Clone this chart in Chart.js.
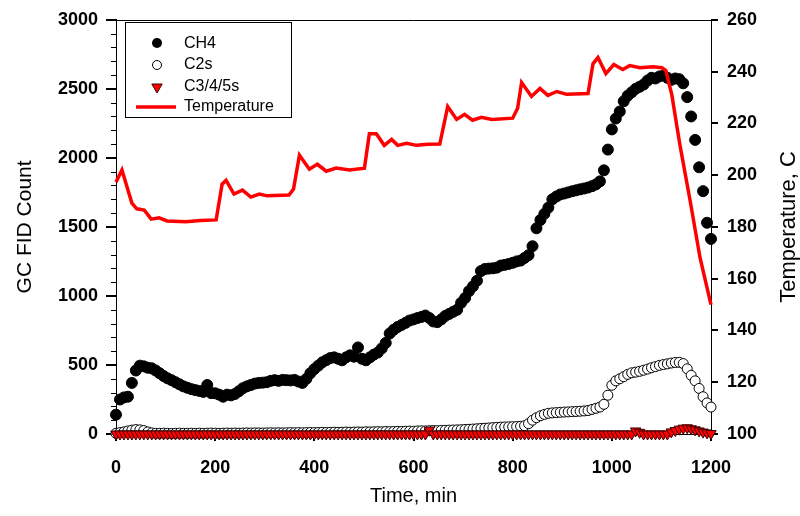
<!DOCTYPE html>
<html>
<head>
<meta charset="utf-8">
<script src="https://cdn.jsdelivr.net/npm/chart.js@4.4.0/dist/chart.umd.min.js"></script>
<style>
  html, body { margin: 0; padding: 0; background: #fff; }
  #wrap { width: 800px; height: 516px; }
</style>
</head>
<body>
<div id="wrap"><canvas id="chart" width="800" height="516"></canvas></div>
<script>
// sample times (min) shared by the three GC series
const minutes = [
  0, 8, 16, 24, 32, 40, 48, 56, 64, 72,
  80, 88, 96, 104, 112, 120, 128, 136, 144, 152,
  160, 168, 176, 184, 192, 200, 208, 216, 224, 232,
  240, 248, 256, 264, 272, 280, 288, 296, 304, 312,
  320, 328, 336, 344, 352, 360, 368, 376, 384, 392,
  400, 408, 416, 424, 432, 440, 448, 456, 464, 472,
  480, 488, 496, 504, 512, 520, 528, 536, 544, 552,
  560, 568, 576, 584, 592, 600, 608, 616, 624, 632,
  640, 648, 656, 664, 672, 680, 688, 696, 704, 712,
  720, 728, 736, 744, 752, 760, 768, 776, 784, 792,
  800, 808, 816, 824, 832, 840, 848, 856, 864, 872,
  880, 888, 896, 904, 912, 920, 928, 936, 944, 952,
  960, 968, 976, 984, 992, 1000, 1008, 1016, 1024, 1032,
  1040, 1048, 1056, 1064, 1072, 1080, 1088, 1096, 1104, 1112,
  1120, 1128, 1136, 1144, 1152, 1160, 1168, 1176, 1184, 1192,
  1200
];

const ch4 = [
  140, 250, 265, 270, 370, 460, 495, 490, 480, 476,
  460, 440, 420, 403, 390, 375, 360, 345, 335, 325,
  318, 312, 305, 355, 296, 295, 285, 270, 285, 280,
  290, 310, 332, 345, 355, 365, 370, 372, 375, 385,
  390, 385, 392, 390, 388, 392, 380, 370, 400, 440,
  470, 495, 519, 535, 550, 555, 545, 534, 555, 570,
  560, 627, 545, 534, 555, 575, 590, 620, 660, 728,
  755, 775, 790, 805, 822, 830, 840, 848, 858, 840,
  815, 810, 830, 855, 870, 885, 900, 950, 985, 1035,
  1070, 1110, 1180, 1195, 1198, 1200, 1205, 1220, 1225, 1232,
  1240, 1250, 1256, 1275, 1295, 1360, 1490, 1550, 1595, 1640,
  1700, 1720, 1735, 1742, 1750, 1758, 1765, 1772, 1778, 1785,
  1795, 1808, 1830, 1910, 2060, 2206, 2285, 2336, 2410, 2450,
  2475, 2500, 2515, 2531, 2560, 2580, 2575, 2590, 2596, 2580,
  2565, 2575, 2570, 2540, 2440, 2300, 2130, 1932, 1759, 1530,
  1413
];

const c2s = [
  5, 10, 15, 22, 28, 32, 30, 25, 15, 8,
  5, 5, 6, 5, 4, 5, 6, 5, 5, 6,
  5, 6, 5, 6, 7, 6, 5, 6, 7, 6,
  7, 6, 7, 8, 7, 8, 8, 7, 8, 9,
  8, 9, 8, 9, 10, 9, 10, 9, 10, 11,
  10, 11, 12, 11, 12, 13, 12, 13, 14, 13,
  14, 15, 14, 16, 15, 16, 17, 16, 18, 17,
  18, 19, 18, 20, 21, 20, 22, 23, 22, 24,
  25, 24, 26, 27, 28, 29, 30, 31, 33, 34,
  36, 38, 40, 42, 44, 46, 48, 50, 51, 52,
  53, 54, 56, 60, 75, 100, 118, 132, 142, 150,
  153, 155, 157, 159, 160, 162, 163, 165, 167, 170,
  178, 186, 195, 215, 281, 353, 385, 400, 415, 432,
  443, 448, 454, 462, 470, 480, 488, 497, 503, 508,
  514, 518, 519, 510, 472, 425, 385, 330, 270, 225,
  195
];

const c345 = [
  0, 0, 0, 0, 0, 0, 0, 0, 0, 0,
  0, 0, 0, 0, 0, 0, 0, 0, 0, 0,
  0, 0, 0, 0, 0, 0, 0, 0, 0, 0,
  0, 0, 0, 0, 0, 0, 0, 0, 0, 0,
  0, 0, 0, 0, 0, 0, 0, 0, 0, 0,
  0, 0, 0, 0, 0, 0, 0, 0, 0, 0,
  0, 0, 0, 0, 0, 0, 0, 0, 0, 0,
  0, 0, 0, 0, 0, 0, 0, 0, 0, 28,
  0, 0, 0, 0, 0, 0, 0, 0, 0, 0,
  0, 0, 0, 0, 0, 0, 0, 0, 0, 0,
  0, 0, 0, 0, 0, 0, 0, 0, 0, 0,
  0, 0, 0, 0, 0, 0, 0, 0, 0, 0,
  0, 0, 0, 0, 0, 0, 0, 0, 0, 0,
  0, 22, 12, 0, 0, 0, 0, 0, 0, 0,
  15, 25, 35, 42, 45, 38, 30, 22, 14, 8,
  3
];

// temperature trace (right axis)
const tempMinutes = [0, 12, 32, 42, 57, 71, 87, 103, 141, 170, 202, 214, 222, 238, 255, 272, 289, 305, 349, 358,
  370, 390, 406, 424, 444, 471, 501, 511, 525, 541, 556, 568, 586, 606, 628, 653, 669, 687, 703, 719,
  737, 758, 800, 810, 818, 838, 855, 871, 889, 909, 952, 962, 972, 988, 1004, 1022, 1036, 1057, 1083, 1101,
  1109, 1121, 1137, 1158, 1178, 1200];
const temperature = [197.3, 202, 189.2, 187, 186.5, 183, 183.5, 182.3, 182, 182.5, 182.7, 196.5, 198, 192.7, 194.2, 191.5, 192.7, 192, 192.3, 194.6,
  207.7, 202.3, 204.2, 201.5, 202.7, 202, 202.7, 216, 216, 211.5, 213.8, 211.5, 212.3, 211.5, 211.9, 212, 226.5, 221.5, 223.5, 221.2,
  222.3, 221.5, 222, 225.8, 235.8, 230.4, 233.5, 230.8, 232.3, 231.2, 231.5, 243, 245.4, 239.2, 242.7, 240.8, 242.3, 241.5, 241.9, 241.5,
  240.4, 231, 212, 190, 168, 150];

function pairs(xs, ys) {
  return xs.map((x, i) => ({ x: x, y: ys[i] }));
}

const FONT = "'Liberation Sans', Arial, sans-serif";
const tickFont = { family: FONT, size: 18, weight: 'bold' };
const plain = (v) => String(v);

// frame, minor ticks, axis titles and the boxed legend
const decorations = {
  id: 'decorations',
  afterDraw(chart) {
    const ctx = chart.ctx;
    const area = chart.chartArea;
    const y = chart.scales.y;
    ctx.save();
    ctx.strokeStyle = '#000';
    ctx.lineWidth = 1;
    ctx.beginPath();
    ctx.moveTo(area.left, Math.round(area.top) + 0.5);
    ctx.lineTo(area.right, Math.round(area.top) + 0.5);
    ctx.stroke();

    ctx.beginPath();
    for (let v = y.min; v <= y.max; v += 100) {
      if (v % 500 === 0) continue;
      const py = Math.round(y.getPixelForValue(v)) + 0.5;
      ctx.moveTo(area.left - 5, py);
      ctx.lineTo(area.left, py);
    }
    ctx.stroke();

    // axis titles
    ctx.fillStyle = '#000';
    ctx.textAlign = 'center';
    ctx.textBaseline = 'alphabetic';
    const midY = (area.top + area.bottom) / 2;
    ctx.font = '21px ' + FONT;
    ctx.save();
    ctx.translate(31, midY);
    ctx.rotate(-Math.PI / 2);
    ctx.fillText('GC FID Count', 0, 0);
    ctx.restore();
    ctx.font = '22px ' + FONT;
    ctx.save();
    ctx.translate(795, midY);
    ctx.rotate(-Math.PI / 2);
    ctx.fillText('Temperature, C', 0, 0);
    ctx.restore();
    ctx.font = '20px ' + FONT;
    ctx.fillText('Time, min', (area.left + area.right) / 2, 502);

    // legend
    ctx.lineWidth = 1;
    ctx.strokeRect(125.5, 22.5, 166, 95);
    ctx.font = '16px ' + FONT;
    ctx.textAlign = 'left';
    ctx.textBaseline = 'middle';
    const mx = 157, tx = 184;
    ctx.fillText('CH4', tx, 44);
    ctx.fillText('C2s', tx, 65);
    ctx.fillText('C3/4/5s', tx, 87);
    ctx.fillText('Temperature', tx, 107);

    ctx.beginPath();
    ctx.arc(mx, 43, 5, 0, Math.PI * 2);
    ctx.fillStyle = '#000';
    ctx.fill();

    ctx.beginPath();
    ctx.arc(mx, 65, 4.5, 0, Math.PI * 2);
    ctx.fillStyle = '#fff';
    ctx.fill();
    ctx.stroke();

    ctx.beginPath();
    ctx.moveTo(mx - 5.2, 84);
    ctx.lineTo(mx + 5.2, 84);
    ctx.lineTo(mx, 93);
    ctx.closePath();
    ctx.fillStyle = '#ff0000';
    ctx.fill();
    ctx.strokeStyle = '#3a0000';
    ctx.stroke();

    ctx.beginPath();
    ctx.moveTo(136, 107);
    ctx.lineTo(176, 107);
    ctx.strokeStyle = '#ff0000';
    ctx.lineWidth = 3.5;
    ctx.stroke();
    ctx.restore();
  }
};

const ctx = document.getElementById('chart').getContext('2d');

new Chart(ctx, {
  type: 'line',
  data: {
    datasets: [{
        label: 'Temperature',
        data: pairs(tempMinutes, temperature),
        yAxisID: 'y1',
        borderColor: '#ff0000',
        borderWidth: 3.5,
        pointRadius: 0,
        fill: false,
        tension: 0,
        order: 0,
        clip: false
      },
      {
        label: 'C3/4/5s',
        data: pairs(minutes, c345),
        yAxisID: 'y',
        showLine: false,
        pointStyle: 'triangle',
        pointRotation: 180,
        pointRadius: 6,
        pointBackgroundColor: '#ff0000',
        pointBorderColor: '#3a0000',
        pointBorderWidth: 1,
        order: 1,
        clip: false
      },
      {
        label: 'C2s',
        data: pairs(minutes, c2s),
        yAxisID: 'y',
        showLine: false,
        pointStyle: 'circle',
        pointRadius: 5,
        pointBackgroundColor: '#fff',
        pointBorderColor: '#000',
        pointBorderWidth: 1,
        order: 2,
        clip: false
      },
      {
        label: 'CH4',
        data: pairs(minutes, ch4),
        yAxisID: 'y',
        showLine: false,
        pointStyle: 'circle',
        pointRadius: 5.5,
        pointBackgroundColor: '#000',
        pointBorderColor: '#000',
        pointBorderWidth: 1,
        order: 3,
        clip: false
      }
    ]
  },
  options: {
    responsive: false,
    animation: false,
    events: [],
    layout: {
      padding: { top: 18, left: 0, right: 0, bottom: 0 }
    },
    plugins: {
      legend: { display: false },
      tooltip: { enabled: false }
    },
    scales: {
      x: {
        type: 'linear',
        min: 0,
        max: 1200,
        afterFit: (scale) => { scale.height = 82; },
        grid: {
          drawOnChartArea: false,
          drawTicks: true,
          tickLength: 7,
          lineWidth: 2,
          color: '#000'
        },
        border: { display: true, color: '#000', width: 1 },
        ticks: {
          stepSize: 200,
          padding: 16,
          color: '#000',
          font: tickFont,
          maxRotation: 0,
          callback: plain
        }
      },
      y: {
        position: 'left',
        min: 0,
        max: 3000,
        afterFit: (scale) => { scale.width = 116; },
        grid: {
          drawOnChartArea: false,
          drawTicks: true,
          tickLength: 10,
          lineWidth: 2,
          color: '#000'
        },
        border: { display: true, color: '#000', width: 1 },
        ticks: {
          stepSize: 500,
          padding: 8,
          color: '#000',
          font: tickFont,
          callback: plain
        }
      },
      y1: {
        position: 'right',
        min: 100,
        max: 260,
        afterFit: (scale) => { scale.width = 89; },
        grid: {
          drawOnChartArea: false,
          drawTicks: true,
          tickLength: 7,
          lineWidth: 2,
          color: '#000'
        },
        border: { display: true, color: '#000', width: 1 },
        ticks: {
          stepSize: 20,
          padding: 9,
          color: '#000',
          font: tickFont,
          callback: plain
        }
      }
    }
  },
  plugins: [decorations]
});
</script>
</body>
</html>
